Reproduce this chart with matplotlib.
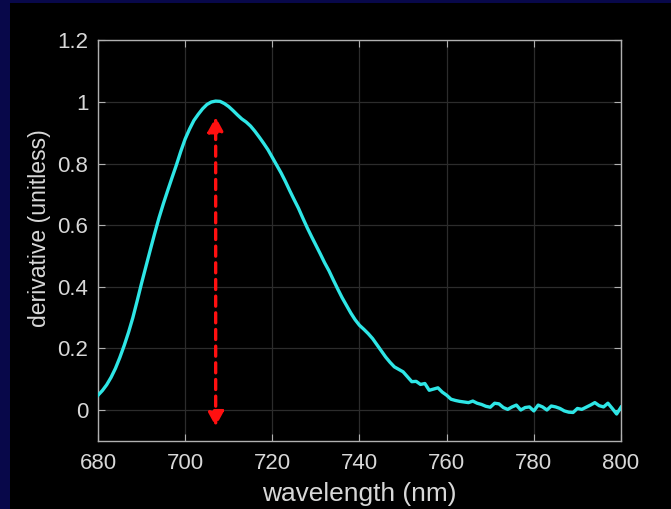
import matplotlib
matplotlib.use("Agg")
import matplotlib.pyplot as plt
from matplotlib.patches import Rectangle, FancyArrowPatch

wavelength = list(range(680, 801))
derivative = [
    0.048, 0.063, 0.082, 0.106, 0.135, 0.170, 0.209, 0.252, 0.300, 0.355,
    0.412, 0.466, 0.520, 0.573, 0.624, 0.670, 0.713, 0.755, 0.796, 0.840,
    0.880, 0.912, 0.940, 0.960, 0.978, 0.992, 1.000, 1.003, 1.002, 0.995,
    0.985, 0.972, 0.958, 0.945, 0.935, 0.922, 0.905, 0.886, 0.866, 0.845,
    0.820, 0.795, 0.770, 0.742, 0.712, 0.683, 0.655, 0.623, 0.592, 0.563,
    0.535, 0.507, 0.478, 0.452, 0.422, 0.393, 0.365, 0.340, 0.315, 0.293,
    0.275, 0.262, 0.248, 0.232, 0.212, 0.192, 0.172, 0.155, 0.140, 0.132,
    0.124, 0.108, 0.092, 0.093, 0.083, 0.086, 0.064, 0.068, 0.072, 0.058,
    0.048, 0.035, 0.031, 0.028, 0.026, 0.024, 0.029, 0.022, 0.018, 0.012,
    0.009, 0.022, 0.020, 0.008, 0.002, 0.010, 0.016, 0.000, 0.008, 0.010,
    -0.003, 0.016, 0.010, 0.000, 0.013, 0.010, 0.005, -0.003, -0.007, -0.008,
    0.005, 0.002, 0.009, 0.016, 0.024, 0.014, 0.010, 0.022, 0.005, -0.013,
    0.009,
]
arrow_x = 707
arrow_top = 0.96
arrow_bottom = -0.062

xticks = [680, 700, 720, 740, 760, 780, 800]
yticks = [0, 0.2, 0.4, 0.6, 0.8, 1.0, 1.2]
yticklabels = ["0", "0.2", "0.4", "0.6", "0.8", "1", "1.2"]

plt.rcParams['font.family'] = ['Liberation Sans', 'DejaVu Sans']

W, H = 671, 509
fig = plt.figure(figsize=(W / 100, H / 100), dpi=100, facecolor='#08084a')
fig.patches.append(Rectangle((10 / W, 0), 1, (H - 3) / H, transform=fig.transFigure,
                             facecolor='black', edgecolor='none', zorder=-10))

ax = fig.add_axes([98 / W, (H - 440.8) / H, (621 - 98) / W, (440.8 - 40.4) / H])
ax.set_zorder(1)
ax.set_facecolor('black')
ax.plot(wavelength, derivative, color='#2ee6e6', lw=2.4, zorder=3)

arr = FancyArrowPatch((arrow_x, arrow_bottom), (arrow_x, arrow_top),
                      arrowstyle='<|-|>,head_length=0.55,head_width=0.3',
                      mutation_scale=16, color='#ff1010', lw=2.4,
                      linestyle=(0, (3, 2)), zorder=4)
ax.add_patch(arr)

ax.set_xlim(680, 800)
ax.set_ylim(-0.1, 1.2)
ax.set_xticks(xticks)
ax.set_yticks(yticks)
ax.set_yticklabels(yticklabels)
ax.grid(True, color='#2c2c2c', lw=0.9)
ax.set_axisbelow(True)
for s in ax.spines.values():
    s.set_color('#b0b0b0')
    s.set_linewidth(1.0)
ax.tick_params(direction='in', length=5, color='#b0b0b0', labelcolor='#d8d8d8',
               labelsize=16, top=True, right=True)
ax.tick_params(axis='x', pad=9)
ax.tick_params(axis='y', pad=7)
ax.set_xlabel('wavelength (nm)', color='#d8d8d8', fontsize=18.9)
ax.xaxis.set_label_coords(0.5, -0.103)
ax.set_ylabel('derivative (unitless)', color='#d8d8d8', fontsize=16.6)
ax.yaxis.set_label_coords(-0.09, 0.531)

fig.savefig('out.png', dpi=100, facecolor=fig.get_facecolor())
